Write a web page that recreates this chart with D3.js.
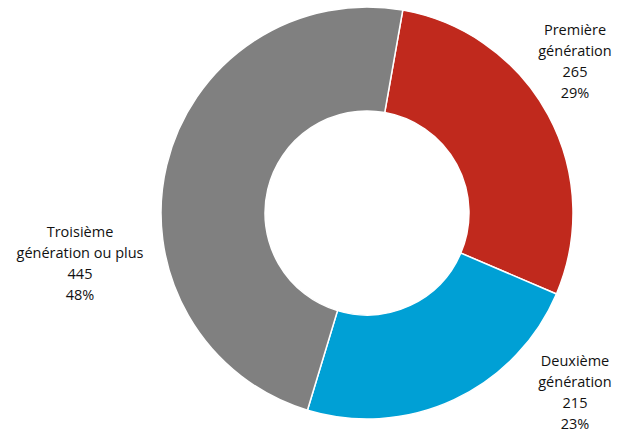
<!DOCTYPE html>
<html><head><meta charset="utf-8">
<script src="https://cdn.jsdelivr.net/npm/d3@7"></script>
<style>html,body{margin:0;padding:0;background:#fff;}svg{display:block;}</style>
</head><body>
<svg id="c" width="620" height="432"></svg>
<script>
const categories = [["Première", "génération"], ["Deuxième", "génération"], ["Troisième", "génération ou plus"]];
const values = [265, 215, 445];
const percents = ["29%", "23%", "48%"];
const colors = ["#C0291D", "#00A0D5", "#808080"];

const W = 620, H = 432;
const cx = 367, cy = 213, outerR = 206, innerR = 102;
const startDeg = 10;
// label anchors (layout)
const labelPos = [[575, 35], [575, 366], [80, 237]];
const lineH = 21;

const svg = d3.select("#c");
const g = svg.append("g").attr("transform", `translate(${cx},${cy})`);
const pie = d3.pie().sort(null).value(d => d)
  .startAngle(startDeg * Math.PI / 180)
  .endAngle(startDeg * Math.PI / 180 + 2 * Math.PI);
const arc = d3.arc().innerRadius(innerR).outerRadius(outerR);
const color = d3.scaleOrdinal().domain(d3.range(values.length)).range(colors);

g.selectAll("path").data(pie(values)).join("path")
  .attr("d", arc)
  .attr("fill", (d, i) => color(i))
  .attr("stroke", "#fff").attr("stroke-width", 1.5);

const lg = svg.append("g")
  .attr("font-family", "'Open Sans', 'Noto Sans', sans-serif")
  .attr("font-size", 14.5).attr("fill", "#111").attr("text-anchor", "middle");
const fmt = d3.format("d");
categories.forEach((cat, i) => {
  const lines = [...cat, fmt(values[i]), percents[i]];
  const t = lg.append("text").attr("x", labelPos[i][0]).attr("y", labelPos[i][1]);
  lines.forEach((l, j) => {
    t.append("tspan").attr("x", labelPos[i][0]).attr("y", labelPos[i][1] + j * lineH).text(l);
  });
});
</script>
</body></html>
